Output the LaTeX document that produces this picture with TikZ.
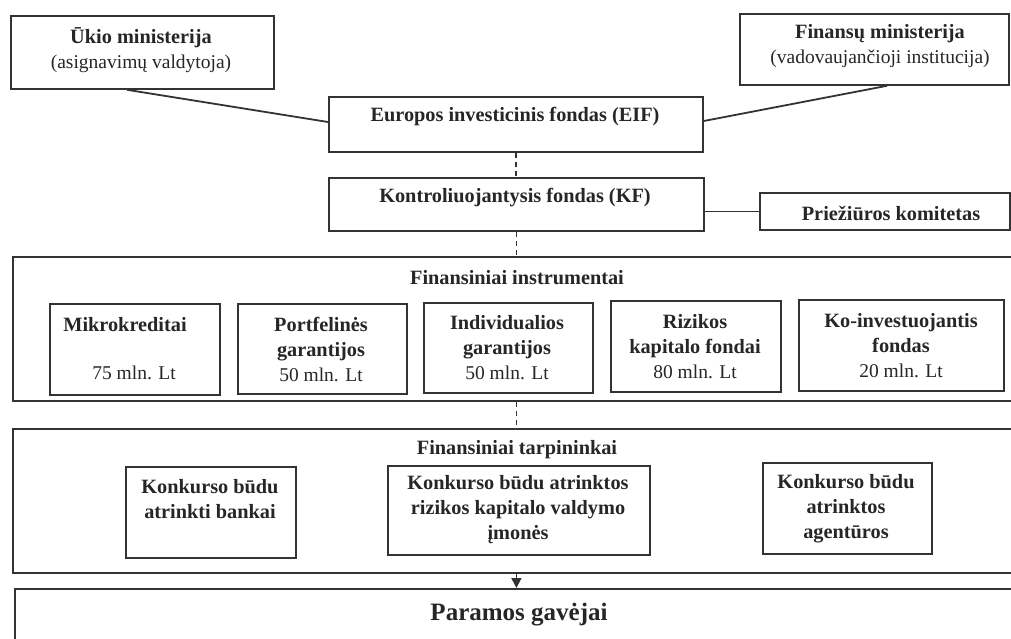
\documentclass[tikz,border=0pt]{standalone}
\usepackage{fontspec}
\setmainfont{Liberation Serif}
\usetikzlibrary{arrows.meta,calc}
\definecolor{ink}{HTML}{333333}
\definecolor{txtink}{HTML}{262626}
\newcommand{\mybox}[5]{\node[boxst, minimum width={#4-#2}, minimum height={#5-#3}] (#1) at (#2,#3) {};}
\newcommand{\reg}{\fontsize{19.5}{25}\selectfont\mdseries}
\begin{document}
\begin{tikzpicture}[x=1pt,y=-1pt,
  boxst/.style={draw=ink, line width=1.8pt, rectangle, inner sep=0pt, anchor=north west},
  txt/.style={inner sep=0pt, align=center, text=txtink, font=\fontsize{20.3}{25}\selectfont\bfseries},
  big/.style={inner sep=0pt, text=txtink, font=\fontsize{25}{30}\selectfont\bfseries},
  conn/.style={draw=ink, line width=1.8pt},
  dashc/.style={draw=ink, line width=1.4pt, dash pattern=on 5pt off 4pt},
  arr/.style={draw=ink, line width=1.8pt, -{Triangle[length=10pt,width=10pt]}}]
\clip (0,0) rectangle (1011,639);
\fill[white] (0,0) rectangle (1011,639);
% boxes
\mybox{uk}{10}{15}{273}{88}
\mybox{fm}{739}{13}{1008}{84}
\mybox{eif}{328}{96}{702}{151}
\mybox{kf}{328}{177}{703}{230}
\mybox{pk}{759}{192}{1009}{229}
\mybox{fi}{12}{256}{1030}{400}
\mybox{mk}{49}{303}{219}{394}
\mybox{pg}{237}{303}{406}{393}
\mybox{ig}{423}{302}{592}{392}
\mybox{rk}{610}{300}{780}{391}
\mybox{ko}{798}{299}{1003}{390}
\mybox{ft}{12}{428}{1030}{572}
\mybox{bk}{125}{466}{295}{557}
\mybox{rv}{387}{465}{649}{554}
\mybox{ag}{762}{462}{931}{553}
\mybox{pv}{14}{588}{1030}{670}
% texts
\node[txt] (ukt) at (141,50) {Ūkio ministerija\\\reg(asignavimų valdytoja)};
\node[txt] (fmt) at (880,46) {Finansų ministerija\\\reg(vadovaujančioji institucija)};
\node[txt] (eift) at (515,117) {Europos investicinis fondas (EIF)};
\node[txt] (kft) at (515,198) {Kontroliuojantysis fondas (KF)};
\node[txt] (pkt) at (891,213) {Priežiūros komitetas};
\node[txt] (fit) at (517,278) {Finansiniai instrumentai};
\node[txt] (mkt1) at (125,325) {Mikrokreditai};
\node[txt] (mkt2) at (134,373) {\reg 75 mln. Lt};
\node[txt] (pgt) at (321,349) {Portfelinės\\garantijos\\\reg 50 mln. Lt};
\node[txt] (igt) at (507,348) {Individualios\\garantijos\\\reg 50 mln. Lt};
\node[txt] (rkt) at (695,346.5) {Rizikos\\kapitalo fondai\\\reg 80 mln. Lt};
\node[txt] (kot) at (901,346) {Ko-investuojantis\\fondas\\\reg 20 mln. Lt};
\node[txt] (ftt) at (517,450) {Finansiniai tarpininkai};
\node[txt] (bkt) at (210,499.5) {Konkurso būdu\\atrinkti bankai};
\node[txt] (rvt) at (518,510) {Konkurso būdu atrinktos\\rizikos kapitalo valdymo\\įmonės};
\node[txt] (agt) at (846,508.5) {Konkurso būdu\\atrinktos\\agentūros};
\node[big] (pvt) at (519,615) {Paramos gavėjai};
% connectors
\draw[conn] ($(uk.south west)+(117,0)$) -- ($(eif.north west)+(0,26)$);
\draw[conn] ($(fm.south west)+(148,0)$) -- ($(eif.north east)+(0,25)$);
\draw[conn] (kf.east |- pk.west) -- (pk.west);
\draw[dashc] (eif.south) -- (eif.south |- kf.north);
\draw[dashc] (kf.south) -- (kf.south |- fi.north);
\draw[dashc] (kf.south |- fi.south) -- (kf.south |- ft.north);
\draw[arr] (kf.south |- ft.south) -- (kf.south |- pv.north);
\end{tikzpicture}
\end{document}
